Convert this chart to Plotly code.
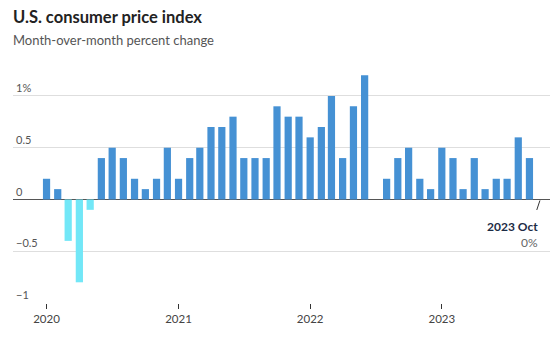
import plotly.graph_objects as go

months = [f"{y}-{m:02d}-01" for y in range(2020, 2024) for m in range(1, 13)][:46]
values = [
    0.2, 0.1, -0.4, -0.8, -0.1, 0.4, 0.5, 0.4, 0.2, 0.1, 0.2, 0.5,   # 2020
    0.2, 0.4, 0.5, 0.7, 0.7, 0.8, 0.4, 0.4, 0.4, 0.9, 0.8, 0.8,      # 2021
    0.6, 0.7, 1.0, 0.4, 0.9, 1.2, 0.0, 0.2, 0.4, 0.5, 0.2, 0.1,      # 2022
    0.5, 0.4, 0.1, 0.4, 0.1, 0.2, 0.2, 0.6, 0.4, 0.0,                # 2023
]
y_tickvals = [-1, -0.5, 0, 0.5, 1]
y_ticktext = ["\u22121", "\u22120.5", "0", "0.5", "1%"]
x_tickvals = ["2020-01-01", "2021-01-01", "2022-01-01", "2023-01-01"]
x_ticktext = ["2020", "2021", "2022", "2023"]

BLUE = "#4591d4"
CYAN = "#72e7f7"
colors = [CYAN if v < 0 else BLUE for v in values]

FONT = "Lato"

fig = go.Figure()
fig.add_trace(go.Bar(
    x=months, y=values, marker_color=colors, marker_line_width=0,
    width=20 * 86400000, hoverinfo="x+y",
))

fig.update_layout(
    width=560, height=337,
    margin=dict(l=13, r=10, t=68, b=34),
    paper_bgcolor="white", plot_bgcolor="white",
    showlegend=False,
    font=dict(family=FONT, color="#444", size=11),
    title=dict(
        text="<b>U.S. consumer price index</b>",
        font=dict(family=FONT, size=16.5, color="#222"),
        xref="container", x=13 / 560, xanchor="left",
        yref="container", y=1 - 17 / 337, yanchor="middle",
    ),
    xaxis=dict(
        type="date",
        range=["2019-09-30", "2023-10-28"],
        tickvals=x_tickvals, ticktext=x_ticktext,
        ticks="outside", ticklen=5, tickcolor="#333", tickwidth=1,
        showgrid=False, showline=False, zeroline=False,
        tickfont=dict(family=FONT, size=11.5, color="#444"),
    ),
    yaxis=dict(
        range=[-1, 1.27],
        tickvals=y_tickvals, ticktext=y_ticktext,
        ticklabelposition="inside top",
        showgrid=True, gridcolor="#dedede", gridwidth=1,
        zeroline=True, zerolinecolor="#555", zerolinewidth=1,
        showline=False, ticks="",
        tickfont=dict(family=FONT, size=11, color="#555"),
    ),
)

fig.add_annotation(
    xref="paper", yref="paper", x=0, y=(303 - 40) / 235,
    xanchor="left", yanchor="middle", showarrow=False, xshift=-2,
    text="Month-over-month percent change",
    font=dict(family=FONT, size=13, color="#555"),
)

# connector tick for last value
fig.add_annotation(
    x=months[-1], y=values[-1], text="", showarrow=True,
    arrowhead=0, arrowwidth=1, arrowcolor="#333",
    ax=-4, ay=12, standoff=1,
)
fig.add_annotation(
    x=months[-1], y=values[-1], showarrow=False,
    xanchor="right", yanchor="top", yshift=-18, align="right",
    text="<b><span style='color:#1c2b45'>2023 Oct</span></b><br>0%",
    font=dict(family=FONT, size=12, color="#666"),
)

fig.write_html("out.html")
